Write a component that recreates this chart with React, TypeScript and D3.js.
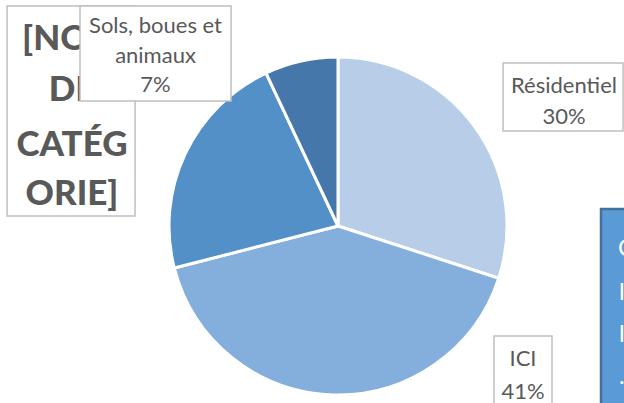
import React from "react";
import * as d3 from "d3";

const categories = ["Résidentiel", "ICI", "[NOM DE CATÉGORIE]", "Sols, boues et animaux"];
const values = [30, 41, 22, 7];
const percentLabels = ["30%", "41%", "22%", "7%"];
const colors = ["#B7CDE8", "#84AEDB", "#5490C8", "#4677AA"];

const W = 624;
const H = 403;
const cx = 338;
const cy = 226;
const R = 169;
const FONT = "Lato, 'Open Sans', sans-serif";
const GRAY = "#595959";
const LABEL_SIZE = 22;

export default function App() {
  const pie = d3.pie<number>().sort(null).value((d) => d);
  const arcs = pie(values);
  const arc = d3.arc<d3.PieArcDatum<number>>().innerRadius(0).outerRadius(R);

  return (
    <svg width={W} height={H} style={{ position: "absolute", left: 0, top: 0, background: "#fff" }}>
      <defs>
        <clipPath id="phClip">
          <rect x={7} y={6} width={128} height={210} />
        </clipPath>
      </defs>
      <g transform={`translate(${cx},${cy})`}>
        {arcs.map((a, i) => (
          <path key={i} d={arc(a) || ""} fill={colors[i]} stroke="#fff" strokeWidth={3} strokeLinejoin="round" />
        ))}
      </g>

      {/* Placeholder category label */}
      <rect x={7} y={6} width={128} height={210} fill="#fff" stroke="#BFBFBF" strokeWidth={1.5} />
      <g clipPath="url(#phClip)" fontFamily={FONT} fontWeight={900} fontSize={35} fill={GRAY} textAnchor="middle">
        <text x={72} y={50}>[NOM</text>
        <text x={72} y={101}>DE</text>
        <text x={72} y={156}>CATÉG</text>
        <text x={72} y={205}>ORIE]</text>
      </g>

      {/* Sols label */}
      <rect x={80} y={6} width={151} height={95} fill="#fff" stroke="#BFBFBF" strokeWidth={1.5} />
      <g fontFamily={FONT} fontSize={LABEL_SIZE} fill={GRAY} textAnchor="middle">
        <text x={155.5} y={33}>Sols, boues et</text>
        <text x={155.5} y={63}>animaux</text>
        <text x={155.5} y={92}>{percentLabels[3]}</text>
      </g>

      {/* Résidentiel label */}
      <rect x={503} y={63} width={120} height={68} fill="#fff" stroke="#BFBFBF" strokeWidth={1.5} />
      <g fontFamily={FONT} fontSize={LABEL_SIZE} fill={GRAY} textAnchor="middle">
        <text x={564} y={93}>{categories[0]}</text>
        <text x={564} y={124}>{percentLabels[0]}</text>
      </g>

      {/* ICI label */}
      <rect x={494} y={336} width={58} height={80} fill="#fff" stroke="#BFBFBF" strokeWidth={1.5} />
      <g fontFamily={FONT} fontSize={LABEL_SIZE} fill={GRAY} textAnchor="middle">
        <text x={523} y={366}>{categories[1]}</text>
        <text x={523} y={399}>{percentLabels[1]}</text>
      </g>

      {/* Blue callout box on the right */}
      <rect x={601} y={209} width={40} height={210} fill="#5B9BD5" stroke="#41719C" strokeWidth={2.5} />
      <g fontFamily={FONT} fontSize={24} fill="#fff">
        <text x={618} y={256}>C</text>
        <text x={619} y={300}>l</text>
        <text x={619} y={342}>l</text>
        <text x={619} y={384}>.</text>
      </g>
    </svg>
  );
}
